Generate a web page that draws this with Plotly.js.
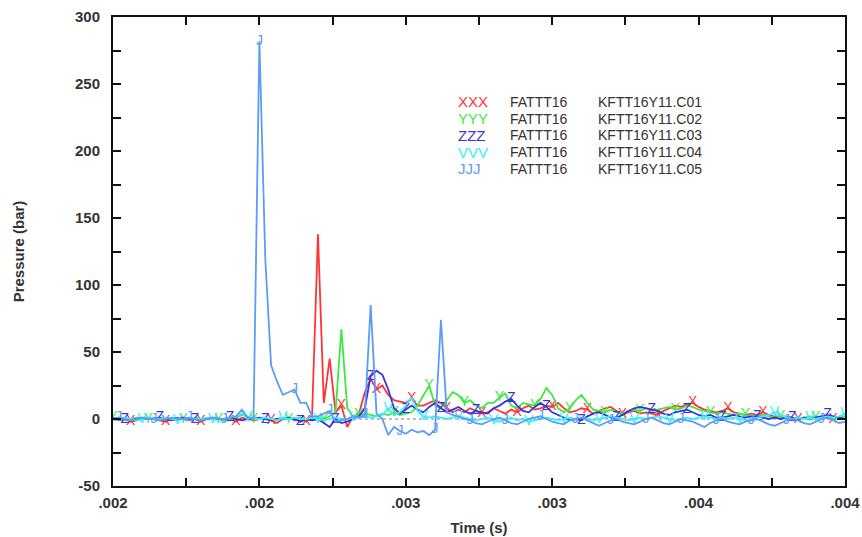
<!DOCTYPE html>
<html>
<head>
<meta charset="utf-8">
<script src="https://cdn.plot.ly/plotly-3.0.1.min.js"></script>
<style>html,body{margin:0;padding:0;background:#fff;}#chart{width:862px;height:537px;}</style>
</head>
<body>
<div id="chart"></div>
<script>
// ---- data ----
const time = [
0.00150,0.00152,0.00154,0.00156,0.00158,0.00160,0.00162,0.00164,0.00166,0.00168,
0.00170,0.00172,0.00174,0.00176,0.00178,0.00180,0.00182,0.00184,0.00186,0.00188,
0.00190,0.00192,0.00194,0.00196,0.00198,0.00200,0.00202,0.00204,0.00206,0.00208,
0.00210,0.00212,0.00214,0.00216,0.00218,0.00220,0.00222,0.00224,0.00226,0.00228,
0.00230,0.00232,0.00234,0.00236,0.00238,0.00240,0.00242,0.00244,0.00246,0.00248,
0.00250,0.00252,0.00254,0.00256,0.00258,0.00260,0.00262,0.00264,0.00266,0.00268,
0.00270,0.00272,0.00274,0.00276,0.00278,0.00280,0.00282,0.00284,0.00286,0.00288,
0.00290,0.00292,0.00294,0.00296,0.00298,0.00300,0.00302,0.00304,0.00306,0.00308,
0.00310,0.00312,0.00314,0.00316,0.00318,0.00320,0.00322,0.00324,0.00326,0.00328,
0.00330,0.00332,0.00334,0.00336,0.00338,0.00340,0.00342,0.00344,0.00346,0.00348,
0.00350,0.00352,0.00354,0.00356,0.00358,0.00360,0.00362,0.00364,0.00366,0.00368,
0.00370,0.00372,0.00374,0.00376,0.00378,0.00380,0.00382,0.00384,0.00386,0.00388,
0.00390,0.00392,0.00394,0.00396,0.00398,0.00400];

const pC01 = [
0,-1,0,-2,-1,0,1,0,-1,-2,
0,1,0,-1,0,-2,0,1,0,-1,
0,-2,1,0,-1,0,1,-1,-3,0,
1,-1,0,-2,3,138,12,45,5,10,
-6,2,4,20,30,22,25,18,14,13,
12,15,10,10,12,14,12,8,5,7,
5,8,6,4,5,8,6,4,7,5,
8,10,7,8,10,9,12,8,5,6,
8,7,4,6,8,9,6,3,5,6,
4,5,4,3,6,8,10,9,11,12,
9,7,6,5,6,8,5,4,3,4,
3,5,3,2,2,1,1,0,1,0,
1,0,1,0,1,0];

const pC02 = [
1,0,-1,0,1,0,0,1,-1,0,
1,0,0,-1,1,0,0,1,0,-1,
0,1,3,2,0,1,0,-1,0,1,
0,0,1,0,-1,1,0,2,5,67,
8,2,3,4,3,2,4,3,5,3,
4,5,10,18,25,10,8,14,20,18,
12,14,10,8,12,12,16,19,10,8,
12,11,10,15,23,18,8,5,8,14,
18,12,7,6,5,7,5,4,6,7,
6,8,6,7,8,9,7,8,10,9,
7,6,5,4,5,4,3,4,3,2,
2,3,2,1,2,2,1,0,1,2,
1,2,1,0,1,2];

const pC03 = [
0,1,0,-1,0,1,0,0,1,0,
-1,0,1,0,0,-1,0,1,0,0,
1,0,-1,0,0,1,0,-1,0,0,
1,0,-2,0,-1,0,-3,-6,0,-3,
-2,0,2,8,32,36,33,22,8,4,
7,10,7,5,9,12,8,5,7,9,
6,4,6,5,4,8,10,13,15,10,
6,5,9,12,9,5,3,1,-1,0,
-1,2,4,5,3,1,1,3,6,8,
9,8,7,6,4,3,5,6,7,5,
3,2,3,1,1,2,3,2,1,2,
2,1,0,1,0,1,1,0,1,0,
1,2,3,2,1,0];

const pC04 = [
0,0,1,0,-1,0,1,0,0,1,
0,-1,0,1,0,0,1,0,-1,0,
1,2,4,1,0,0,1,0,-1,1,
0,1,0,0,1,0,-1,0,1,0,
0,1,1,2,1,2,3,8,3,5,
10,16,6,2,1,2,1,0,1,2,
1,0,-1,0,1,-1,-2,0,1,-1,
0,-2,-1,0,1,0,-1,0,1,0,
1,0,-1,0,1,2,1,0,-1,0,
1,0,1,2,1,0,-1,0,1,0,
1,2,1,0,1,0,1,0,-1,0,
1,2,3,5,3,1,0,1,0,1,
0,1,2,1,2,4];

const pC05 = [
0,1,0,-1,0,1,0,0,-1,0,
1,0,0,1,0,-1,0,1,0,0,
1,2,7,1,0,282,120,40,28,18,
20,22,12,12,2,2,4,6,-2,-1,
0,2,1,3,85,4,0,-12,-6,-9,
-11,-8,-10,-9,-12,-8,74,5,3,2,
0,-1,-3,-4,-2,0,1,-1,-3,-4,
-2,0,1,2,0,-2,-3,-4,-1,0,
1,-1,-3,-5,-3,-1,0,-2,-3,-4,
-2,0,1,-1,-3,-4,-2,0,-1,-2,
-4,-6,-3,-1,0,-2,-3,-4,-2,-1,
0,-2,-4,-5,-3,-1,0,-1,-3,-4,
-2,0,1,-1,-3,-2];

const refTime = [0.0015, 0.004];
const refLevel = [0, 0];

const codes = ['XXX', 'YYY', 'ZZZ', 'VVV', 'JJJ'];
const tests = ['FATTT16', 'FATTT16', 'FATTT16', 'FATTT16', 'FATTT16'];
const channels = ['KFTT16Y11.C01', 'KFTT16Y11.C02', 'KFTT16Y11.C03', 'KFTT16Y11.C04', 'KFTT16Y11.C05'];

const xTickVals = [0.0015, 0.002, 0.0025, 0.003, 0.0035, 0.004];
const xTickText = ['.002', '.002', '.003', '.003', '.004', '.004'];
const xMinorVals = [0.00175, 0.00225, 0.00275, 0.00325, 0.00375];
const yTickVals = [-50, 0, 50, 100, 150, 200, 250, 300];
const yTickText = ['-50', '0', '50', '100', '150', '200', '250', '300'];

// ---- styling ----
const series = [pC01, pC02, pC03, pC04, pC05];
const colors = ['#ff3535', '#3ee83e', '#3535e0', '#35eeff', '#5c9cf6'];
const offsets = [3, 0, 2, 5, 1];
const FONT = '"Liberation Sans", Arial, sans-serif';

const traces = [{
  x: refTime, y: refLevel, mode: 'lines', showlegend: false, hoverinfo: 'skip',
  line: {color: '#aaaaaa', width: 1.5, dash: 'dot'}
}];
series.forEach((vals, k) => {
  const letter = codes[k].charAt(0);
  traces.push({
    x: time, y: vals, mode: 'lines+text', name: codes[k], showlegend: false,
    text: vals.map((v, i) => (i % 6 === offsets[k]) ? letter : ''),
    textposition: 'middle center',
    textfont: {family: FONT, size: 14, color: colors[k]},
    line: {color: colors[k], width: 1.8}
  });
});

const annotations = [];
const rowTop = 0.8188, rowStep = 0.0356;
codes.forEach((c, k) => {
  const y = rowTop - k * rowStep;
  annotations.push({xref: 'paper', yref: 'paper', x: 0.468, y: y, xanchor: 'left', yanchor: 'middle',
    showarrow: false, text: c, font: {family: FONT, size: 15, color: colors[k]}});
  annotations.push({xref: 'paper', yref: 'paper', x: 0.5396, y: y, xanchor: 'left', yanchor: 'middle',
    showarrow: false, text: tests[k], font: {family: FONT, size: 14, color: '#333333'}});
  annotations.push({xref: 'paper', yref: 'paper', x: 0.6598, y: y, xanchor: 'left', yanchor: 'middle',
    showarrow: false, text: channels[k], font: {family: FONT, size: 14, color: '#333333'}});
});

const axisCommon = {
  showgrid: false, zeroline: false, showline: true, linecolor: '#111111', linewidth: 2,
  mirror: 'ticks', ticks: 'inside', ticklen: 8, tickwidth: 2, tickcolor: '#111111',
  tickfont: {family: FONT, size: 15, color: '#333333', weight: 'bold'}
};

const layout = {
  width: 862, height: 537,
  margin: {l: 113, r: 17, t: 17, b: 51},
  paper_bgcolor: '#ffffff', plot_bgcolor: '#ffffff',
  showlegend: false,
  xaxis: Object.assign({}, axisCommon, {
    range: [0.0015, 0.004], tickmode: 'array', tickvals: xTickVals, ticktext: xTickText,
    minor: {tickmode: 'array', tickvals: xMinorVals, ticks: 'inside', ticklen: 8, tickwidth: 2, tickcolor: '#111111', showgrid: false},
    ticklabelstandoff: 2,
    title: {text: 'Time (s)', font: {family: FONT, size: 15, color: '#333333', weight: 'bold'}, standoff: 12}
  }),
  yaxis: Object.assign({}, axisCommon, {
    range: [-50, 300], tickmode: 'array', tickvals: yTickVals, ticktext: yTickText,
    minor: {dtick: 25, tick0: 0, ticks: 'inside', ticklen: 8, tickwidth: 2, tickcolor: '#111111', showgrid: false},
    ticklabelstandoff: 8,
    title: {text: 'Pressure (bar)', font: {family: FONT, size: 15, color: '#333333', weight: 'bold'}, standoff: 47}
  }),
  annotations: annotations
};

Plotly.newPlot('chart', traces, layout, {staticPlot: true, displayModeBar: false});
</script>
</body>
</html>
